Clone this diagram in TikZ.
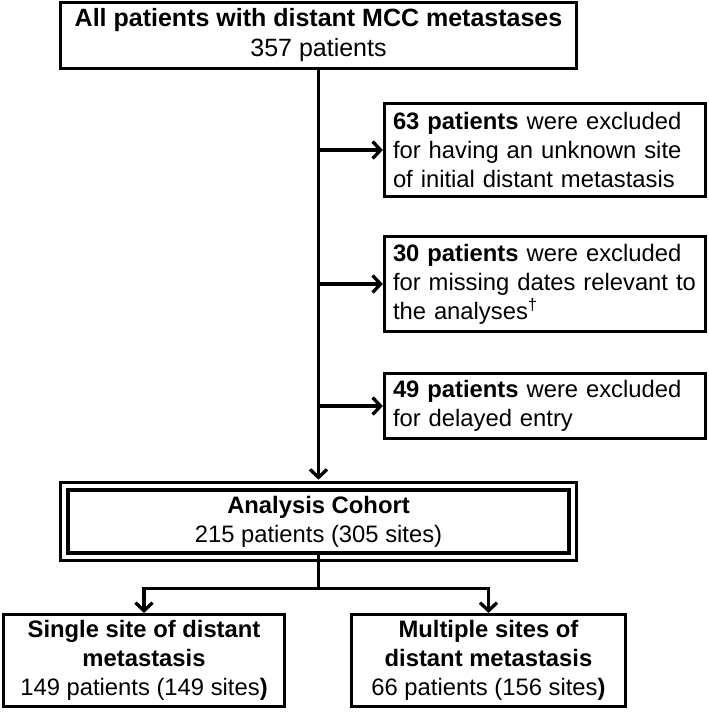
\documentclass[tikz,border=0pt]{standalone}
\usepackage{fontspec}
\setmainfont{Liberation Sans}
\usetikzlibrary{arrows.meta}
\begin{document}
\begin{tikzpicture}[x=1pt,y=1pt,
		every node/.style={inner sep=0pt},
		box/.style={draw, line width=3.3pt, align=center, font=\fontsize{23.8}{29}\selectfont},
		exclbox/.style={box, align=left, text width=304pt, inner xsep=8.5pt},
		cohortbox/.style={box, double=white, double distance=4pt},
		link/.style={line width=3.3pt},
		arr/.style={link, -{Straight Barb[length=8pt,width=17pt,line width=3.3pt]}}]
		\useasboundingbox (0,0) rectangle (709,-712);
		% start and exclusions
		\node [box, minimum width=516pt, minimum height=66pt, font=\fontsize{25}{30}\selectfont] (all) at (318.5,-35.5) {\textbf{All patients with distant MCC metastases}\\357 patients};
		\node [exclbox, minimum height=93pt] (excl1) at (545,-150) {\textbf{63 patients} were excluded\\for having an unknown site\\of initial distant metastasis};
		\node [exclbox, minimum height=95pt] (excl2) at (545,-284) {\textbf{30 patients} were excluded\\for missing dates relevant to\\the analyses\textsuperscript{†}};
		\node [exclbox, minimum height=65pt] (excl3) at (545,-406) {\textbf{49 patients} were excluded\\for delayed entry};
		% cohort and split
		\node [cohortbox, minimum width=508.4pt, minimum height=70.4pt] (cohort) at (318.5,-521.5) {\textbf{Analysis Cohort}\\215 patients (305 sites)};
		\node [box, minimum width=280.8pt, minimum height=91.8pt] (single) at (144,-660.5) {\textbf{Single site of distant}\\\textbf{metastasis}\\149 patients (149 sites\textbf{)}};
		\node [box, minimum width=273.8pt, minimum height=91.8pt] (multi) at (488.5,-660.5) {\textbf{Multiple sites of}\\\textbf{distant metastasis}\\66 patients (156 sites\textbf{)}};
		\draw [arr, shorten >=5pt] (all.south) -- (cohort.north);
		\draw [arr] (all.south |- excl1.west) -- (excl1.west);
		\draw [arr] (all.south |- excl2.west) -- (excl2.west);
		\draw [arr] (all.south |- excl3.west) -- (excl3.west);
		\path (cohort.south) ++(0,-30) coordinate (split);
		\draw [link, shorten <=-5pt] (cohort.south) -- (split);
		\draw [arr] (split) -| (single.north);
		\draw [arr] (split) -| (multi.north);
	\end{tikzpicture}
\end{document}
